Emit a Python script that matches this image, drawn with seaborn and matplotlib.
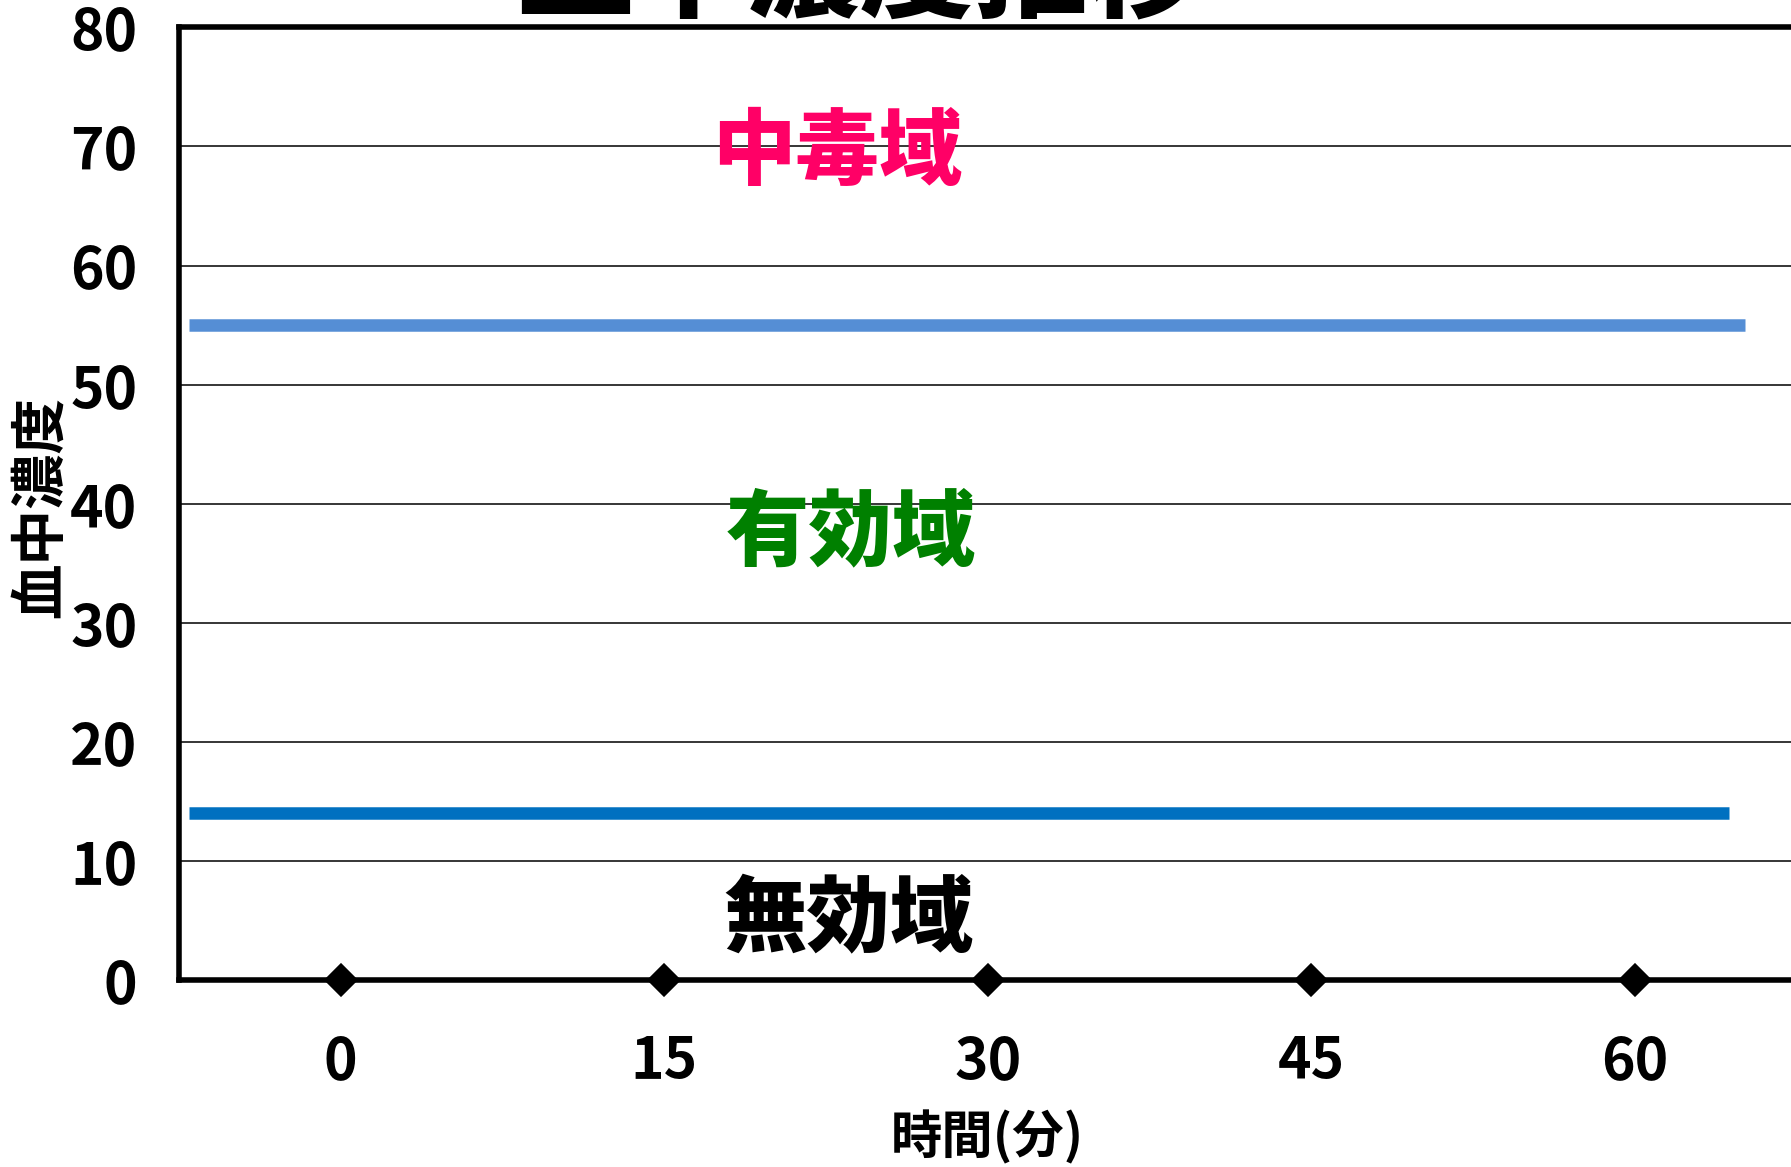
import matplotlib
matplotlib.use("Agg")
import matplotlib.pyplot as plt
import seaborn as sns
import pandas as pd
from matplotlib import font_manager

# data
times = ["0", "15", "30", "45", "60"]
conc = [0, 0, 0, 0, 0]
toxic_level = 55
min_effective = 14
y_ticks = [0, 10, 20, 30, 40, 50, 60, 70, 80]
zone_names = ["中毒域", "有効域", "無効域"]
zone_x = [1.535, 1.575, 1.57]
zone_y = [69.5, 37.5, 5.0]
zone_colors = ["#FF0066", "#008000", "#000000"]

sns.set_theme(style="white")
jp = "Noto Sans CJK JP"
plt.rcParams["font.family"] = [jp, "DejaVu Sans"]
plt.rcParams["text.color"] = "black"
plt.rcParams["axes.labelcolor"] = "black"
plt.rcParams["xtick.color"] = "black"
plt.rcParams["ytick.color"] = "black"

num_fp = font_manager.FontProperties(family=[jp, "DejaVu Sans"], weight="bold", size=41)

fig = plt.figure(figsize=(17.91, 11.67), dpi=100)
ax = fig.add_axes([179/1791, 1-980/1167, (1796.6-179)/1791, (980-27.4)/1167])

df = pd.DataFrame({"時間": times, "濃度": conc})
sns.pointplot(data=df, x="時間", y="濃度", color="black", marker="D",
              markersize=16, linewidth=1.5, errorbar=None, ax=ax,
              clip_on=False, zorder=10)

ax.set_xlim(-0.5, 4.5)
ax.set_ylim(0, 80)

# reference lines
ax.hlines(toxic_level, -0.47, 4.34, color="#558ED5", lw=9, zorder=5)
ax.hlines(min_effective, -0.47, 4.29, color="#0070C0", lw=9, zorder=5)

ax.set_yticks(y_ticks)
ax.yaxis.grid(True, color="black", lw=1.1)
ax.xaxis.grid(False)
ax.set_xticks(range(len(times)))
ax.set_xticks([0.5, 1.5, 2.5, 3.5], minor=True)
ax.tick_params(axis="x", which="major", length=0, pad=38)
ax.tick_params(axis="x", which="minor", length=11, width=1.2, direction="in", color="black")
ax.tick_params(axis="y", length=0, pad=30)
for lab in ax.get_xticklabels() + ax.get_yticklabels():
    lab.set_fontproperties(num_fp)
    lab.set_color("black")

for s in ax.spines.values():
    s.set_color("black")
    s.set_linewidth(4)

ax.set_xlabel("時間(分)", fontsize=37, fontweight="bold", labelpad=14)
ax.set_ylabel("血中濃度", fontsize=40, fontweight="bold")
ax.yaxis.set_label_coords(-0.068, 0.4965)

for name, xv, yv, c in zip(zone_names, zone_x, zone_y, zone_colors):
    ax.text(xv, yv, name, color=c, fontsize=60, fontweight="heavy",
            ha="center", va="center", zorder=6)

fig.text(0.48, 1-8/1167, "血中濃度推移", fontsize=82, fontweight="heavy",
         ha="center", va="baseline", color="black")

fig.savefig("out.png", dpi=100)
